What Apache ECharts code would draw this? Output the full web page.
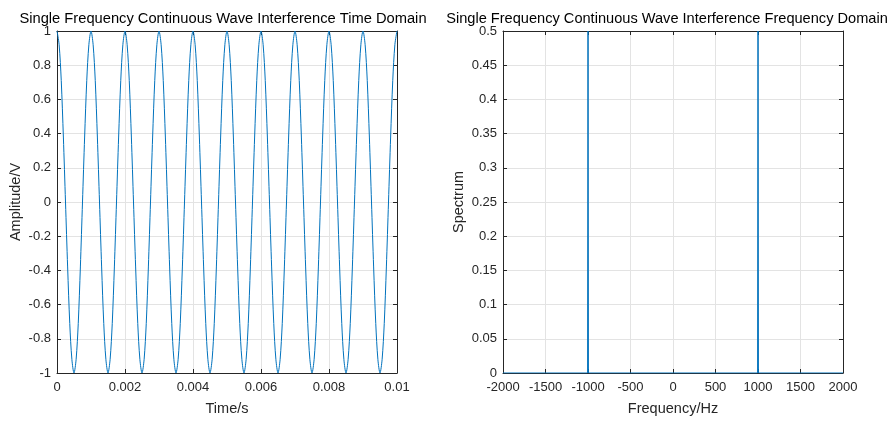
<!DOCTYPE html>
<html>
<head>
<meta charset="utf-8">
<script src="https://cdn.jsdelivr.net/npm/echarts@6/dist/echarts.min.js"></script>
<style>html,body{margin:0;padding:0;background:#fff;}#c{width:893px;height:421px;}</style>
</head>
<body>
<div id="c"></div>
<script>
// Time-domain samples, sample spacing in seconds
const sampleStep = 0.0000625;
const amplitude = [
 1, 0.92, 0.71, 0.38, 0, -0.38, -0.71, -0.92, -1, -0.92, -0.71, -0.38, 0, 0.38, 0.71, 0.92,
 1, 0.92, 0.71, 0.38, 0, -0.38, -0.71, -0.92, -1, -0.92, -0.71, -0.38, 0, 0.38, 0.71, 0.92,
 1, 0.92, 0.71, 0.38, 0, -0.38, -0.71, -0.92, -1, -0.92, -0.71, -0.38, 0, 0.38, 0.71, 0.92,
 1, 0.92, 0.71, 0.38, 0, -0.38, -0.71, -0.92, -1, -0.92, -0.71, -0.38, 0, 0.38, 0.71, 0.92,
 1, 0.92, 0.71, 0.38, 0, -0.38, -0.71, -0.92, -1, -0.92, -0.71, -0.38, 0, 0.38, 0.71, 0.92,
 1, 0.92, 0.71, 0.38, 0, -0.38, -0.71, -0.92, -1, -0.92, -0.71, -0.38, 0, 0.38, 0.71, 0.92,
 1, 0.92, 0.71, 0.38, 0, -0.38, -0.71, -0.92, -1, -0.92, -0.71, -0.38, 0, 0.38, 0.71, 0.92,
 1, 0.92, 0.71, 0.38, 0, -0.38, -0.71, -0.92, -1, -0.92, -0.71, -0.38, 0, 0.38, 0.71, 0.92,
 1, 0.92, 0.71, 0.38, 0, -0.38, -0.71, -0.92, -1, -0.92, -0.71, -0.38, 0, 0.38, 0.71, 0.92,
 1, 0.92, 0.71, 0.38, 0, -0.38, -0.71, -0.92, -1, -0.92, -0.71, -0.38, 0, 0.38, 0.71, 0.92,
 1
];
// Spectrum (frequency in Hz, magnitude)
const freqHz   = [-2000, -1005, -1000, -995, 995, 1000, 1005, 2000];
const spectrum = [0, 0, 0.5, 0, 0, 0.5, 0, 0];

const titles = ['Single Frequency Continuous Wave Interference Time Domain',
                'Single Frequency Continuous Wave Interference Frequency Domain'];
const xNames = ['Time/s', 'Frequency/Hz'];
const yNames = ['Amplitude/V', 'Spectrum'];

const timeData = amplitude.map((v, i) => [i * sampleStep, v]);
const specData = freqHz.map((f, i) => [f, spectrum[i]]);

const FONT = 'Liberation Sans, Arial, Helvetica, sans-serif';
const AX = '#262626';
const GRIDC = '#e3e3e3';
const BLUE = '#0072BD';
const plain = v => String(v);

const grids = [
  {left: 57, top: 31, width: 340, height: 342},
  {left: 503, top: 31, width: 340, height: 342}
];

function mainX(gi, min, max, interval, name) {
  return {
    type: 'value', gridIndex: gi, min, max, interval, position: 'bottom',
    name, nameLocation: 'middle', nameGap: 28,
    nameTextStyle: {color: AX, fontSize: 14.5, fontFamily: FONT},
    axisLine: {show: true, onZero: false, lineStyle: {color: AX, width: 1}},
    axisTick: {show: true, inside: true, length: 4, lineStyle: {color: AX}},
    axisLabel: {color: AX, fontSize: 13, fontFamily: FONT, margin: 8, formatter: plain},
    splitLine: {show: true, lineStyle: {color: GRIDC, width: 1}}
  };
}
function secX(gi, min, max, interval) {
  return {
    type: 'value', gridIndex: gi, min, max, interval, position: 'top',
    axisLine: {show: true, onZero: false, lineStyle: {color: AX, width: 1}},
    axisTick: {show: true, inside: true, length: 4, lineStyle: {color: AX}},
    axisLabel: {show: false}, splitLine: {show: false}
  };
}
function mainY(gi, min, max, interval, name, gap) {
  return {
    type: 'value', gridIndex: gi, min, max, interval, position: 'left',
    name, nameLocation: 'middle', nameGap: gap, nameRotate: 90,
    nameTextStyle: {color: AX, fontSize: 14.5, fontFamily: FONT},
    axisLine: {show: true, onZero: false, lineStyle: {color: AX, width: 1}},
    axisTick: {show: true, inside: true, length: 4, lineStyle: {color: AX}},
    axisLabel: {color: AX, fontSize: 13, fontFamily: FONT, margin: 6, formatter: plain},
    splitLine: {show: true, lineStyle: {color: GRIDC, width: 1}}
  };
}
function secY(gi, min, max, interval) {
  return {
    type: 'value', gridIndex: gi, min, max, interval, position: 'right',
    axisLine: {show: true, onZero: false, lineStyle: {color: AX, width: 1}},
    axisTick: {show: true, inside: true, length: 4, lineStyle: {color: AX}},
    axisLabel: {show: false}, splitLine: {show: false}
  };
}

const option = {
  animation: false,
  backgroundColor: '#fff',
  title: [
    {text: titles[0], left: 218, top: 6, textAlign: 'center',
     textStyle: {color: '#000', fontSize: 14.7, fontWeight: 'normal', fontFamily: FONT}},
    {text: titles[1], left: 662, top: 6, textAlign: 'center',
     textStyle: {color: '#000', fontSize: 14.6, fontWeight: 'normal', fontFamily: FONT}}
  ],
  grid: grids,
  xAxis: [
    mainX(0, 0, 0.01, 0.002, xNames[0]),
    mainX(1, -2000, 2000, 500, xNames[1]),
    secX(0, 0, 0.01, 0.002),
    secX(1, -2000, 2000, 500)
  ],
  yAxis: [
    mainY(0, -1, 1, 0.2, yNames[0], 34),
    mainY(1, 0, 0.5, 0.05, yNames[1], 37),
    secY(0, -1, 1, 0.2),
    secY(1, 0, 0.5, 0.05)
  ],
  series: [
    {type: 'line', xAxisIndex: 0, yAxisIndex: 0, data: timeData, smooth: 0.3,
     showSymbol: false, lineStyle: {color: BLUE, width: 1}, clip: true},
    {type: 'line', xAxisIndex: 1, yAxisIndex: 1, data: specData,
     showSymbol: false, lineStyle: {color: BLUE, width: 1}, clip: true}
  ]
};
const chart = echarts.init(document.getElementById('c'), null, {renderer: 'canvas'});
chart.setOption(option);
</script>
</body>
</html>
